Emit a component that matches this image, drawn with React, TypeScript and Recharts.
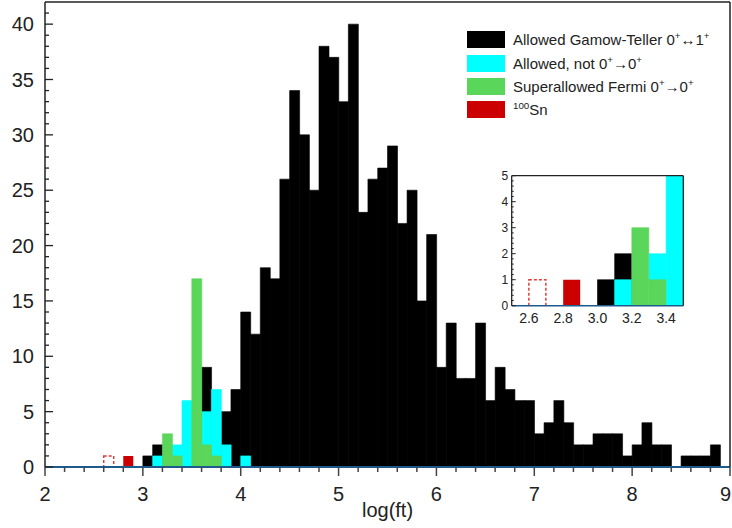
import React from 'react';
import { ComposedChart, Bar, XAxis, YAxis, Legend } from 'recharts';

// Bin centres of the log(ft) histogram (bin width 0.1, from 2.0 to 9.0)
const binCenters = [
  2.05, 2.15, 2.25, 2.35, 2.45, 2.55, 2.65, 2.75, 2.85, 2.95,
  3.05, 3.15, 3.25, 3.35, 3.45, 3.55, 3.65, 3.75, 3.85, 3.95,
  4.05, 4.15, 4.25, 4.35, 4.45, 4.55, 4.65, 4.75, 4.85, 4.95,
  5.05, 5.15, 5.25, 5.35, 5.45, 5.55, 5.65, 5.75, 5.85, 5.95,
  6.05, 6.15, 6.25, 6.35, 6.45, 6.55, 6.65, 6.75, 6.85, 6.95,
  7.05, 7.15, 7.25, 7.35, 7.45, 7.55, 7.65, 7.75, 7.85, 7.95,
  8.05, 8.15, 8.25, 8.35, 8.45, 8.55, 8.65, 8.75, 8.85, 8.95,
];

// Allowed Gamow-Teller 0+ <-> 1+
const gamowTeller = [
  0, 0, 0, 0, 0, 0, 0, 0, 0, 0,
  1, 2, 0, 0, 0, 0, 9, 0, 5, 7,
  14, 12, 18, 17, 26, 34, 30, 25, 38, 37,
  33, 40, 23, 26, 27, 29, 22, 25, 15, 21,
  9, 13, 8, 8, 13, 6, 9, 7, 6, 6,
  3, 4, 6, 4, 2, 2, 3, 3, 3, 1,
  2, 4, 2, 2, 0, 1, 1, 1, 2, 0,
];

// Allowed, not 0+ -> 0+
const allowedNot00 = [
  0, 0, 0, 0, 0, 0, 0, 0, 0, 0,
  0, 1, 0, 2, 6, 0, 5, 7, 2, 0,
  1, 0, 0, 0, 0, 0, 0, 0, 0, 0,
  0, 0, 0, 0, 0, 0, 0, 0, 0, 0,
  0, 0, 0, 0, 0, 0, 0, 0, 0, 0,
  0, 0, 0, 0, 0, 0, 0, 0, 0, 0,
  0, 0, 0, 0, 0, 0, 0, 0, 0, 0,
];

// Superallowed Fermi 0+ -> 0+
const superallowedFermi = [
  0, 0, 0, 0, 0, 0, 0, 0, 0, 0,
  0, 0, 3, 1, 0, 17, 2, 1, 0, 0,
  0, 0, 0, 0, 0, 0, 0, 0, 0, 0,
  0, 0, 0, 0, 0, 0, 0, 0, 0, 0,
  0, 0, 0, 0, 0, 0, 0, 0, 0, 0,
  0, 0, 0, 0, 0, 0, 0, 0, 0, 0,
  0, 0, 0, 0, 0, 0, 0, 0, 0, 0,
];

// 100Sn (filled) and the alternative 100Sn value (dashed outline)
const sn100 = [
  0, 0, 0, 0, 0, 0, 0, 0, 1, 0,
  0, 0, 0, 0, 0, 0, 0, 0, 0, 0,
  0, 0, 0, 0, 0, 0, 0, 0, 0, 0,
  0, 0, 0, 0, 0, 0, 0, 0, 0, 0,
  0, 0, 0, 0, 0, 0, 0, 0, 0, 0,
  0, 0, 0, 0, 0, 0, 0, 0, 0, 0,
  0, 0, 0, 0, 0, 0, 0, 0, 0, 0,
];
const sn100Alt = [
  0, 0, 0, 0, 0, 0, 1, 0, 0, 0,
  0, 0, 0, 0, 0, 0, 0, 0, 0, 0,
  0, 0, 0, 0, 0, 0, 0, 0, 0, 0,
  0, 0, 0, 0, 0, 0, 0, 0, 0, 0,
  0, 0, 0, 0, 0, 0, 0, 0, 0, 0,
  0, 0, 0, 0, 0, 0, 0, 0, 0, 0,
  0, 0, 0, 0, 0, 0, 0, 0, 0, 0,
];

// Tick values
const mainXTicks = [
  2, 2.2, 2.4, 2.6, 2.8, 3, 3.2, 3.4, 3.6, 3.8, 4, 4.2, 4.4, 4.6, 4.8,
  5, 5.2, 5.4, 5.6, 5.8, 6, 6.2, 6.4, 6.6, 6.8, 7, 7.2, 7.4, 7.6, 7.8,
  8, 8.2, 8.4, 8.6, 8.8, 9,
];
const mainYTicks = [
  0, 1, 2, 3, 4, 5, 6, 7, 8, 9, 10, 11, 12, 13, 14, 15, 16, 17, 18, 19, 20,
  21, 22, 23, 24, 25, 26, 27, 28, 29, 30, 31, 32, 33, 34, 35, 36, 37, 38, 39, 40, 41,
];
const insetXTicks = [2.6, 2.8, 3.0, 3.2, 3.4];
const insetYTicks = [
  0, 0.2, 0.4, 0.6, 0.8, 1, 1.2, 1.4, 1.6, 1.8, 2, 2.2, 2.4, 2.6, 2.8,
  3, 3.2, 3.4, 3.6, 3.8, 4, 4.2, 4.4, 4.6, 4.8, 5,
];

const COLORS = {
  gt: '#000000',
  al: '#00ffff',
  fe: '#5ad65a',
  sn: '#cc0000',
  snAlt: '#e03c3c',
  axisBlue: '#1d5a8e',
  ink: '#222222',
};
const FONT = '"Liberation Sans", Arial, Helvetica, sans-serif';

const histTable = binCenters.map((b, i) => ({
  bin: b,
  gt: gamowTeller[i],
  al: allowedNot00[i],
  fe: superallowedFermi[i],
  sn: sn100[i],
  snAlt: sn100Alt[i],
}));
const insetTable = histTable.filter((d) => d.bin > 2.5 && d.bin < 3.5);
const lastMainTick = mainXTicks[mainXTicks.length - 1];

const isWhole = (v: number) => Math.abs(v - Math.round(v)) < 1e-6;

const MainXTick = (props: any) => {
  const { x, y, payload } = props;
  const v = payload.value as number;
  const major = isWhole(v);
  const isLast = Math.abs(v - lastMainTick) < 1e-6;
  return (
    <g>
      <line x1={x} x2={x} y1={y} y2={y + (major ? 9 : 5)} stroke="#444" strokeWidth={1.5} />
      {major && (
        <text
          x={isLast ? x + 1 : x}
          y={y + 33.5}
          textAnchor={isLast ? 'end' : 'middle'}
          fontSize={20}
          fill={COLORS.ink}
          fontFamily={FONT}
        >
          {Math.round(v)}
        </text>
      )}
    </g>
  );
};

const MainYTick = (props: any) => {
  const { x, y, payload } = props;
  const v = payload.value as number;
  const major = v % 5 === 0;
  return (
    <g>
      <line x1={x} x2={x + (major ? 8 : 4)} y1={y} y2={y} stroke="#222" strokeWidth={1.3} />
      {major && (
        <text x={x - 11} y={y + 7} textAnchor="end" fontSize={20} fill={COLORS.ink} fontFamily={FONT}>
          {v}
        </text>
      )}
    </g>
  );
};

const InsetXTick = (props: any) => {
  const { x, y, payload } = props;
  const v = payload.value as number;
  return (
    <text x={x} y={y + 17} textAnchor="middle" fontSize={14} fill={COLORS.ink} fontFamily={FONT}>
      {v.toFixed(1)}
    </text>
  );
};

const InsetYTick = (props: any) => {
  const { x, y, payload } = props;
  const v = payload.value as number;
  const major = isWhole(v);
  return (
    <g>
      <line x1={x} x2={x + (major ? 4 : 2)} y1={y} y2={y} stroke="#222" strokeWidth={1} />
      {major && (
        <text x={x - 3.5} y={y + 4.3} textAnchor="end" fontSize={12} fill={COLORS.ink} fontFamily={FONT}>
          {Math.round(v)}
        </text>
      )}
    </g>
  );
};

const supStyle: React.CSSProperties = { fontSize: '0.65em', verticalAlign: 'super', lineHeight: 0 };

const legendEntries = [
  { color: COLORS.gt, label: <>Allowed Gamow-Teller 0<sup style={supStyle}>+</sup>↔1<sup style={supStyle}>+</sup></> },
  { color: COLORS.al, label: <>Allowed, not 0<sup style={supStyle}>+</sup>→0<sup style={supStyle}>+</sup></> },
  { color: COLORS.fe, label: <>Superallowed Fermi 0<sup style={supStyle}>+</sup>→0<sup style={supStyle}>+</sup></> },
  { color: COLORS.sn, label: <><sup style={supStyle}>100</sup>Sn</> },
];

const LegendBox = () => (
  <div style={{ fontFamily: FONT, fontSize: 15, color: COLORS.ink }}>
    {legendEntries.map((e, i) => (
      <div key={i} style={{ display: 'flex', alignItems: 'center', height: 23.1 }}>
        <div style={{ width: 38, height: 17, background: e.color, marginRight: 8, flex: 'none' }} />
        <span style={{ whiteSpace: 'nowrap' }}>{e.label}</span>
      </div>
    ))}
  </div>
);

const seriesBars = (yId: string) => [
  <Bar key="gt" xAxisId="bgt" yAxisId={yId} dataKey="gt" fill={COLORS.gt} stroke={COLORS.gt} strokeWidth={0.6} isAnimationActive={false} />,
  <Bar key="al" xAxisId="bal" yAxisId={yId} dataKey="al" fill={COLORS.al} stroke={COLORS.al} strokeWidth={0.6} isAnimationActive={false} />,
  <Bar key="fe" xAxisId="bfe" yAxisId={yId} dataKey="fe" fill={COLORS.fe} stroke={COLORS.fe} strokeWidth={0.6} isAnimationActive={false} />,
  <Bar key="sn" xAxisId="bsn" yAxisId={yId} dataKey="sn" fill={COLORS.sn} isAnimationActive={false} />,
  <Bar
    key="snAlt"
    xAxisId="bsa"
    yAxisId={yId}
    dataKey="snAlt"
    fill="none"
    stroke={COLORS.snAlt}
    strokeWidth={1.5}
    strokeDasharray="3 2"
    isAnimationActive={false}
  />,
];

const hiddenBarAxes = ['bgt', 'bal', 'bfe', 'bsn', 'bsa'].map((id) => (
  <XAxis key={id} xAxisId={id} dataKey="bin" type="category" height={0} hide />
));

export default function App() {
  return (
    <div style={{ position: 'absolute', left: 0, top: 0, width: 732, height: 528, background: '#fff' }}>
      <ComposedChart
        width={732}
        height={528}
        data={histTable}
        margin={{ top: 1, right: 1, bottom: 0, left: 0 }}
        barCategoryGap={0}
        barGap={0}
      >
        <XAxis
          xAxisId="num"
          type="number"
          dataKey="bin"
          domain={[2, 9]}
          allowDataOverflow
          ticks={mainXTicks}
          interval={0}
          height={61}
          tickSize={0}
          tickMargin={0}
          tickLine={false}
          axisLine={{ stroke: COLORS.axisBlue, strokeWidth: 2 }}
          tick={<MainXTick />}
          label={{ value: 'log(ft)', position: 'insideBottom', offset: 11, fontSize: 20, fill: COLORS.ink, fontFamily: FONT }}
        />
        <XAxis
          xAxisId="top"
          orientation="top"
          dataKey="bin"
          type="category"
          height={1}
          tick={false}
          tickLine={false}
          axisLine={{ stroke: '#222', strokeWidth: 1.5 }}
        />
        {hiddenBarAxes}
        <YAxis
          yAxisId="l"
          type="number"
          domain={[0, 42]}
          allowDataOverflow
          ticks={mainYTicks}
          interval={0}
          width={45}
          tickSize={0}
          tickMargin={0}
          tickLine={false}
          axisLine={{ stroke: '#222', strokeWidth: 1.5 }}
          tick={<MainYTick />}
        />
        <YAxis
          yAxisId="r"
          orientation="right"
          type="number"
          domain={[0, 42]}
          width={1}
          tick={false}
          tickLine={false}
          axisLine={{ stroke: '#222', strokeWidth: 1.5 }}
        />
        {seriesBars('l')}
        <Legend
          layout="vertical"
          align="center"
          verticalAlign="middle"
          wrapperStyle={{ left: 467, top: 28.4, width: 262, height: 93 }}
          content={() => <LegendBox />}
        />
      </ComposedChart>

      <div style={{ position: 'absolute', left: 480, top: 165 }}>
        <ComposedChart
          width={215}
          height={170}
          data={insetTable}
          margin={{ top: 9.7, right: 10.7, bottom: 0, left: 0 }}
          barCategoryGap={0}
          barGap={0}
        >
          <XAxis
            xAxisId="num"
            type="number"
            dataKey="bin"
            domain={[2.5, 3.5]}
            allowDataOverflow
            ticks={insetXTicks}
            interval={0}
            height={29.3}
            tickSize={0}
            tickMargin={0}
            tickLine={false}
            axisLine={{ stroke: COLORS.axisBlue, strokeWidth: 1.5 }}
            tick={<InsetXTick />}
          />
          <XAxis
            xAxisId="top"
            orientation="top"
            dataKey="bin"
            type="category"
            height={1}
            tick={false}
            tickLine={false}
            axisLine={{ stroke: '#222', strokeWidth: 1.3 }}
          />
          {hiddenBarAxes}
          <YAxis
            yAxisId="i"
            type="number"
            domain={[0, 5]}
            allowDataOverflow
            ticks={insetYTicks}
            interval={0}
            width={31.7}
            tickSize={0}
            tickMargin={0}
            tickLine={false}
            axisLine={{ stroke: '#222', strokeWidth: 1.3 }}
            tick={<InsetYTick />}
          />
          <YAxis
            yAxisId="ir"
            orientation="right"
            type="number"
            domain={[0, 5]}
            width={1}
            tick={false}
            tickLine={false}
            axisLine={{ stroke: '#222', strokeWidth: 1.3 }}
          />
          {seriesBars('i')}
        </ComposedChart>
      </div>
    </div>
  );
}
